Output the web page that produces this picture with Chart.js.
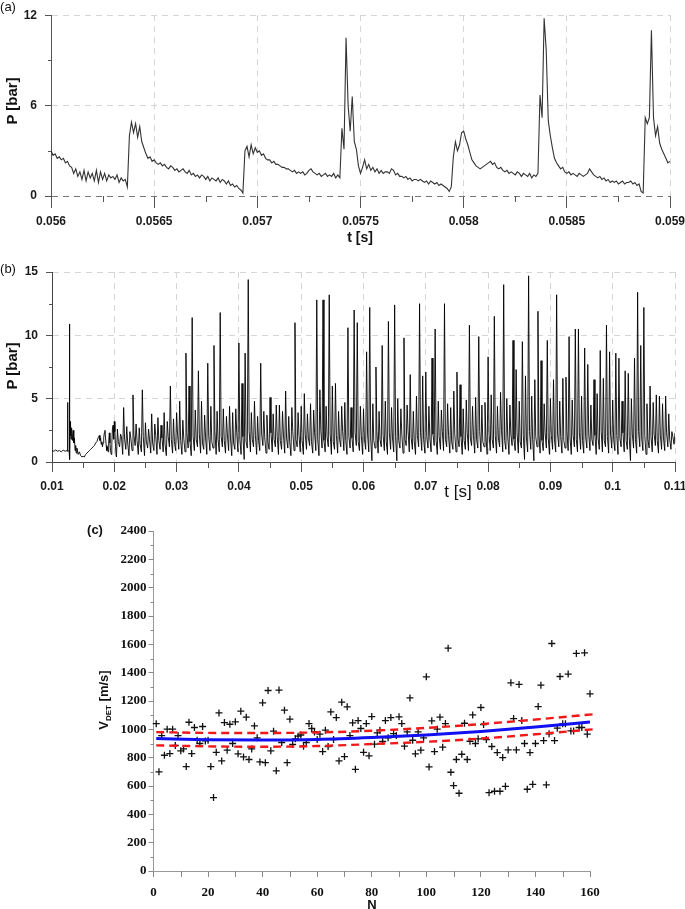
<!DOCTYPE html>
<html>
<head>
<meta charset="utf-8">
<script src="https://cdn.jsdelivr.net/npm/chart.js@4.4.1/dist/chart.umd.min.js"></script>
<style>
html, body { margin: 0; padding: 0; background: #fff; }
body { width: 685px; height: 909px; overflow: hidden; position: relative; font-family: 'Liberation Sans', Arial, sans-serif; color: #111; }
canvas { position: absolute; left: 0; }
.lbl { position: absolute; white-space: nowrap; transform: translate(-50%, -50%); }
.rot { transform: translate(-50%, -50%) rotate(-90deg); }
sub { font-size: 8px; vertical-align: -3px; }
</style>
</head>
<body>
<canvas id="chartA" width="720" height="245" style="top:0"></canvas>
<canvas id="chartB" width="720" height="245" style="top:255px"></canvas>
<canvas id="chartC" width="685" height="404" style="top:505px"></canvas>

<div class="lbl" style="left:8px;top:6px;font-size:13px">(a)</div>
<div class="lbl" style="left:8px;top:268px;font-size:13px">(b)</div>
<div class="lbl" style="left:95px;top:529px;font-size:13px;font-weight:bold">(c)</div>
<div class="lbl rot" style="left:11px;top:101px;font-size:15px;font-weight:bold">P [bar]</div>
<div class="lbl rot" style="left:11px;top:366px;font-size:15px;font-weight:bold">P [bar]</div>
<div class="lbl" style="left:360px;top:237px;font-size:14px;font-weight:bold">t [s]</div>
<div class="lbl" style="left:458px;top:492px;font-size:17px;font-family:'Liberation Sans Narrow','Liberation Sans',sans-serif">t [s]</div>
<div class="lbl rot" style="left:104px;top:700px;font-size:13px;font-weight:bold">V<sub>DET</sub> [m/s]</div>
<div class="lbl" style="left:372px;top:904px;font-size:13px;font-weight:bold">N</div>

<script>
// ---- panel (a): pressure trace, sampled every 10 us from 0.056 s
const tA0 = 0.056, dtA = 0.00001;
const pA = [
3.0,2.7,2.8,2.5,2.6,2.4,2.5,2.2,2.3,2.0,
1.9,1.5,1.8,1.3,1.6,1.1,1.7,1.0,1.6,1.2,
1.5,1.0,1.7,0.9,1.6,1.1,1.5,1.0,1.4,1.2,
1.3,1.1,1.4,0.9,1.2,1.0,1.1,0.6,4.0,4.9,
4.2,4.8,3.9,4.6,3.6,3.2,2.8,2.5,2.6,2.3,
2.4,2.2,2.1,2.2,2.0,2.1,1.9,1.8,2.0,1.9,
1.7,1.8,1.6,1.7,1.8,1.6,1.5,1.7,1.4,1.5,
1.3,1.4,1.2,1.4,1.3,1.1,1.3,1.0,1.2,1.1,
1.0,1.2,0.9,1.1,1.0,0.8,1.0,0.7,0.8,0.6,
0.7,0.5,0.4,0.2,3.0,3.3,2.6,3.4,2.8,3.2,
2.9,3.0,2.7,2.8,2.5,2.4,2.4,2.2,2.3,2.1,
2.1,2.0,1.9,1.9,1.8,1.8,1.7,1.6,1.7,1.5,
1.6,1.5,1.6,1.4,1.5,1.7,1.8,1.6,1.5,1.4,
1.5,1.3,1.4,1.5,1.3,1.4,1.3,1.5,1.2,1.4,
1.2,4.5,3.1,10.5,6.0,4.3,6.6,3.6,3.1,2.0,
1.5,1.9,2.4,1.8,2.1,1.7,1.9,1.6,1.8,1.5,
1.7,1.5,1.6,1.6,1.5,1.8,1.7,1.4,1.5,1.3,
1.3,1.2,1.3,1.1,1.2,1.0,1.1,1.1,1.0,1.1,
1.0,0.9,1.0,0.8,1.0,0.9,0.8,0.9,0.7,0.8,
0.7,0.6,0.5,0.3,0.6,2.6,3.6,3.0,3.4,4.2,
4.3,3.8,3.4,2.9,2.4,2.2,2.0,1.9,1.8,1.9,
2.0,2.1,2.2,2.3,2.1,2.2,1.9,1.8,1.9,1.7,
1.6,1.7,1.5,1.6,1.5,1.4,1.6,1.5,1.3,1.5,
1.4,1.3,1.5,1.2,1.4,1.3,1.5,6.7,5.2,11.8,
9.7,5.0,4.0,3.2,2.5,2.2,2.0,1.8,1.9,1.6,
1.5,1.6,1.4,1.5,1.4,1.3,1.5,1.4,1.3,1.4,
1.5,1.8,1.6,1.4,1.3,1.2,1.3,1.1,1.2,1.0,
1.1,0.9,1.0,0.9,1.0,0.8,0.9,1.0,0.8,0.9,
0.9,1.0,0.8,0.9,0.7,0.8,0.3,0.2,5.2,4.8,
5.2,11.0,5.2,4.0,4.6,3.5,3.1,2.8,2.5,2.2,
2.3];
const aMinorX = [0.05625, 0.05675, 0.05725, 0.05775, 0.05825, 0.05875];
const aMinorY = [3, 9];

// ---- panel (b): start-up part, then one pulse every 0.5 ms from 0.0205 s
const bEarlyT = [0.0100,0.0103,0.0106,0.0109,0.0112,0.0115,0.0118,0.0121,0.0124,
  0.01245,0.0125,0.01255,
  0.01275,0.0128,0.01285,0.0129,0.01295,0.0130,0.01305,0.0131,0.01315,0.0132,
  0.0133,0.0134,0.0135,0.0136,0.0137,0.0138,0.0139,0.0140,
  0.0142,0.0144,0.0146,0.0148,0.0150,0.0152,0.0154,0.0156,0.0158,0.0160,0.0162,0.0164,0.0166,0.0168,0.0170,0.0172,0.0174,0.0176,
  0.0177,0.0178,0.0179,0.0180,0.0181,0.0182,0.0183,0.0184,0.0185,0.0186,0.0187,0.0188,0.0189,0.0190,0.0191,0.0192,0.0193,0.0194,0.0195,0.0196,0.0197,0.0198,0.0199,0.0200,0.0201,0.0202,0.0203];
const bEarlyP = [0.9,0.85,0.95,0.85,0.9,0.8,0.95,0.85,0.9,
  0.85,4.7,0.9,
  0.85,10.9,0.2,3.2,2.1,2.9,1.8,2.7,1.9,2.6,
  1.7,2.5,1.5,1.9,0.9,1.3,0.7,1.1,
  0.6,0.8,0.5,0.4,0.45,0.4,0.6,0.7,0.8,0.9,1.0,1.1,1.2,1.3,1.5,1.6,1.9,2.1,
  1.7,1.9,1.4,1.6,1.2,1.5,1.9,2.3,2.5,1.9,1.3,0.9,1.2,0.8,1.6,2.3,1.5,0.9,0.6,1.4,2.6,2.9,1.8,3.2,2.4,1.2,0.5];
const bT0 = 0.0205, bStep = 0.0005, bEdge = 0.00015;
const bPeak = [
2.6,2.2,4.3,2.8,2.4,5.3,3.0,2.7,5.7,3.1,
2.6,3.8,3.0,3.5,2.9,3.9,3.2,6.0,3.4,3.9,
4.8,3.3,8.6,6.0,11.4,4.1,7.2,4.8,3.7,7.8,
4.4,9.2,4.0,11.8,4.2,3.6,4.4,3.9,4.2,9.4,
6.2,8.6,14.4,3.9,4.8,3.6,7.8,4.0,3.7,5.1,
3.8,4.5,4.5,4.0,5.6,3.6,4.3,11.0,3.9,4.4,
5.4,3.8,4.6,4.1,12.8,5.7,12.8,4.4,13.2,6.0,
6.2,4.0,4.4,4.7,10.6,4.3,12.0,11.0,4.4,4.2,
8.7,12.2,4.6,7.5,4.0,9.2,4.8,11.1,4.3,12.4,
5.0,4.2,9.8,4.5,6.9,4.0,5.2,12.5,6.8,7.1,
4.4,8.2,10.5,4.8,4.1,12.5,4.6,4.3,5.6,7.1,
6.1,4.2,4.9,10.8,4.4,5.1,9.9,4.5,4.7,8.3,
5.3,11.5,4.4,5.5,14.0,5.0,4.5,9.6,7.3,4.8,
9.5,6.8,14.7,5.2,6.5,11.9,8.0,4.6,9.6,5.0,
6.5,13.2,4.8,6.6,6.7,9.9,4.9,10.5,10.5,5.2,
9.0,7.7,4.5,6.5,5.4,8.8,6.6,10.8,8.7,4.9,
8.6,8.2,4.8,7.2,7.0,5.0,8.2,13.4,9.2,12.2,
4.6,6.0,4.7,5.3,5.2,4.6,5.2,3.8,2.4,2.3];
const bLow = [
0.4,1.2,0.6,1.0,0.5,0.9,1.3,0.6,0.8,0.5,
1.1,0.7,0.9,0.6,1.0,0.8,0.5,1.2,0.7,0.9,
1.0,0.6,0.8,1.1,0.5,0.9,1.2,0.7,1.0,0.6,
0.9,1.1,0.6,0.8,1.2,0.7,0.9,0.5,1.0,0.8,
0.6,0.2,1.1,0.8,1.2,0.6,0.9,1.3,0.7,1.0,
0.8,1.2,0.6,1.0,0.7,1.1,0.5,0.9,1.2,0.8,
0.6,1.0,1.3,0.7,0.9,0.5,1.1,0.8,1.2,0.6,
1.0,0.7,1.2,0.9,0.6,1.1,0.8,1.3,0.9,0.6,
1.0,0.8,0.1,1.1,0.7,1.2,0.9,0.6,1.0,0.8,
0.1,1.1,0.7,1.3,0.8,1.0,0.6,1.2,0.9,0.7,
1.1,0.8,1.3,0.6,1.0,0.9,1.2,0.7,1.0,0.8,
1.2,0.6,1.0,0.9,1.3,0.7,1.1,0.8,1.2,0.6,
0.9,1.1,0.7,1.2,0.8,1.0,0.6,1.3,0.9,0.7,
1.1,0.2,0.8,1.0,0.1,1.2,0.7,0.9,1.1,0.6,
1.0,0.8,1.2,0.7,1.1,0.9,0.6,1.2,0.8,1.0,
0.7,1.1,0.9,1.3,0.6,1.0,0.8,1.2,0.7,1.1,
0.9,0.6,1.2,0.8,1.0,0.1,1.1,0.7,1.2,0.9,
0.6,1.1,0.8,1.3,0.7,1.0,0.9,1.2,1.0,1.4];
const bMid = [
1.6,2.0,1.8,1.5,1.9,2.1,1.7,1.4,2.0,1.6,
1.8,1.5,2.1,1.7,1.9,1.4,2.0,1.8,1.6,2.2,
1.7,1.9,2.3,1.6,2.0,1.8,2.2,1.5,1.9,2.1,
1.6,2.4,1.8,2.0,1.7,2.2,1.9,1.5,2.3,1.8,
2.0,1.6,2.4,1.8,2.1,1.7,2.2,1.9,1.6,2.3,
1.8,2.0,1.7,2.2,1.9,1.6,2.4,1.8,2.1,1.7,
2.2,1.9,1.6,2.3,1.8,2.5,1.7,2.0,2.2,1.6,
2.1,1.8,2.4,1.7,2.0,1.9,2.3,1.6,2.1,1.8,
2.2,1.9,1.7,2.4,1.8,2.1,1.6,2.3,1.9,2.0,
1.7,2.2,1.8,2.5,1.9,1.6,2.1,2.3,1.8,2.0,
1.9,2.2,1.7,2.0,2.4,1.8,2.1,1.6,2.2,1.9,
2.0,1.7,2.3,1.9,2.1,1.8,2.4,1.6,2.0,2.2,
1.8,2.1,1.9,2.5,1.7,2.0,2.2,1.8,2.3,1.6,
2.1,1.9,2.4,1.8,2.0,2.2,1.7,2.3,1.9,2.1,
1.8,2.2,2.0,1.7,2.4,1.9,2.1,1.8,2.3,1.7,
2.0,2.2,1.8,2.1,1.9,2.4,1.7,2.0,2.2,1.8,
2.1,1.9,2.3,1.7,2.0,2.2,1.8,2.4,1.9,2.1,
1.8,2.0,2.2,1.7,2.1,1.9,2.3,1.8,2.0,2.2];
const bMinorX = [0.015, 0.025, 0.035, 0.045, 0.055, 0.065, 0.075, 0.085, 0.095, 0.105];
const bMinorY = [2.5, 7.5, 12.5];

// ---- panel (c): detonation velocity per cycle and fitted curves
const cN = [1,2,3,4,5,6,7,8,9,10,11,12,13,14,15,16,17,18,19,20,
21,22,23,24,25,26,27,28,29,30,31,32,33,34,35,36,37,38,39,40,
41,42,43,44,45,46,47,48,49,50,51,52,53,54,55,56,57,58,59,60,
61,62,63,64,65,66,67,68,69,70,71,72,73,74,75,76,77,78,79,80,
81,82,83,84,85,86,87,88,89,90,91,92,93,94,95,96,97,98,99,100,
101,102,103,104,105,106,107,108,109,110,111,112,113,114,115,116,117,118,119,120,
121,122,123,124,125,126,127,128,129,130,131,132,133,134,135,136,137,138,139,140,
141,142,143,144,145,146,147,148,149,150,151,152,153,154,155,156,157,158,159,160];
const cV = [1040,700,956,817,1001,829,1001,886,956,848,862,737,1050,829,1013,923,900,1020,918,923,
737,518,838,1116,777,1048,853,1036,900,1053,827,1128,805,1086,787,862,1024,940,770,1187,
765,1274,848,987,707,1277,907,1135,765,1072,893,933,952,960,881,907,1041,1006,982,928,
966,843,994,879,1123,928,1083,777,1192,808,1159,956,1046,718,1062,1006,838,1041,813,1090,
895,975,994,914,1062,940,1083,970,956,1088,1041,881,982,1222,923,827,982,853,940,1371,
735,1060,843,1001,1086,874,1041,1573,697,603,787,549,824,1043,787,916,1102,900,933,1154,
1034,928,553,879,563,836,563,801,598,855,1328,1076,855,1317,1062,900,577,836,612,900,
1161,1312,921,608,968,1606,921,1008,1373,1039,1039,1390,989,989,1536,1013,1013,1540,966,1251];
const fitN = [1, 20, 40, 60, 80, 100, 120, 140, 160];
const fitV = [935, 927, 925, 929, 942, 960, 985, 1016, 1052];
const bandN = [1, 20, 40, 60, 80, 100, 120, 140, 161];
const bandHi = [980, 975, 974, 978, 990, 1010, 1037, 1069, 1106];
const bandLo = [887, 880, 877, 882, 896, 912, 935, 965, 1000];
const cMinorX = [10, 30, 50, 70, 90, 110, 130, 150];
const cMinorY = [100, 300, 500, 700, 900, 1100, 1300, 1500, 1700, 1900, 2100, 2300];

const sansTick = "'Liberation Sans Narrow', 'Liberation Sans', Arial, sans-serif";
const serifTick = "'Liberation Serif', 'Times New Roman', serif";
const gridGrey = '#d6d6d6';
const fmt = v => String(+v.toFixed(5));

// short ticks between the labelled ones
const minorTicks = {
    id: 'minorTicks',
    afterDraw(chart, args, opts) {
        const ctx = chart.ctx, area = chart.chartArea;
        ctx.save();
        ctx.strokeStyle = opts.color || '#555';
        ctx.lineWidth = 1;
        (opts.list || []).forEach(m => {
            const sc = chart.scales[m.axis];
            m.values.forEach(v => {
                const p = Math.round(sc.getPixelForValue(v)) + 0.5;
                ctx.beginPath();
                if (m.axis === 'x') {
                    ctx.moveTo(p, area.bottom);
                    ctx.lineTo(p, area.bottom + m.len);
                } else {
                    ctx.moveTo(area.left - m.len, p);
                    ctx.lineTo(area.left, p);
                }
                ctx.stroke();
            });
        });
        ctx.restore();
    }
};

const base = {
    responsive: false,
    animation: false,
    events: [],
    plugins: { legend: { display: false }, tooltip: { enabled: false } }
};

// ---- (a)
new Chart(document.getElementById('chartA'), {
    type: 'line',
    data: { datasets: [{
        data: pA.map((p, i) => ({ x: tA0 + i * dtA, y: p })),
        borderColor: '#333', borderWidth: 1.1, pointRadius: 0, tension: 0
    }] },
    options: Object.assign({}, base, {
        layout: { padding: { top: 6, right: 50, left: 0, bottom: 0 } },
        plugins: Object.assign({}, base.plugins, {
            minorTicks: { color: '#555', list: [
                { axis: 'x', values: aMinorX, len: 6 },
                { axis: 'y', values: aMinorY, len: 3 }
            ] }
        }),
        scales: {
            x: {
                type: 'linear', min: 0.056, max: 0.059,
                afterFit: s => { s.height = 49; },
                ticks: { stepSize: 0.0005, autoSkip: false, maxRotation: 0, padding: 6, color: '#1a1a1a',
                    font: { family: sansTick, size: 12, weight: 'bold' }, callback: v => fmt(v) },
                grid: { color: c => c.index === 0 ? 'rgba(0,0,0,0)' : gridGrey, tickColor: '#555', tickLength: 12 },
                border: { display: false, dash: [6, 5] }
            },
            y: {
                min: 0, max: 12,
                afterFit: s => { s.width = 51; },
                ticks: { stepSize: 6, padding: 8, color: '#1a1a1a', font: { family: sansTick, size: 12, weight: 'bold' } },
                grid: { color: c => (c.tick && c.tick.value === 0) ? '#777' : gridGrey, tickColor: '#555', tickLength: 6 },
                border: { display: true, color: '#555', dash: [6, 5] }
            }
        }
    }),
    plugins: [minorTicks]
});

// ---- (b)
const bPoints = bEarlyT.map((t, i) => ({ x: t, y: bEarlyP[i] }));
bPeak.forEach((p, j) => {
    const t = bT0 + j * bStep;
    bPoints.push({ x: t - bEdge, y: bLow[j] }, { x: t, y: p }, { x: t + bEdge, y: bMid[j] });
});

new Chart(document.getElementById('chartB'), {
    type: 'line',
    data: { datasets: [{
        data: bPoints,
        borderColor: '#000', borderWidth: 0.9, pointRadius: 0, tension: 0
    }] },
    options: Object.assign({}, base, {
        layout: { padding: { top: 17, right: 45, left: 0, bottom: 0 } },
        plugins: Object.assign({}, base.plugins, {
            minorTicks: { color: '#555', list: [
                { axis: 'x', values: bMinorX, len: 6 },
                { axis: 'y', values: bMinorY, len: 3 }
            ] }
        }),
        scales: {
            x: {
                type: 'linear', min: 0.01, max: 0.11,
                afterFit: s => { s.height = 38; },
                ticks: { stepSize: 0.01, autoSkip: false, maxRotation: 0, padding: 7, color: '#1a1a1a',
                    font: { family: sansTick, size: 12, weight: 'bold' }, callback: v => fmt(v) },
                grid: { color: c => c.index === 0 ? 'rgba(0,0,0,0)' : gridGrey, tickColor: '#555', tickLength: 10 },
                border: { display: true, color: '#444', dash: [6, 5] }
            },
            y: {
                min: 0, max: 15,
                afterFit: s => { s.width = 52; },
                ticks: { stepSize: 5, padding: 8, color: '#1a1a1a', font: { family: sansTick, size: 12, weight: 'bold' } },
                grid: { color: c => (c.tick && c.tick.value === 0) ? 'rgba(0,0,0,0)' : gridGrey, tickColor: '#555', tickLength: 6 },
                border: { display: true, color: '#444', dash: [6, 5] }
            }
        }
    }),
    plugins: [minorTicks]
});

// ---- (c)
const xy = (xs, ys) => xs.map((x, i) => ({ x: x, y: ys[i] }));
new Chart(document.getElementById('chartC'), {
    type: 'scatter',
    data: { datasets: [
        { data: xy(fitN, fitV), showLine: true, borderColor: '#1010f0', borderWidth: 3, pointRadius: 0,
          cubicInterpolationMode: 'monotone' },
        { data: xy(bandN, bandHi), showLine: true, borderColor: '#f01818', borderWidth: 2.4, borderDash: [8, 5],
          pointRadius: 0, cubicInterpolationMode: 'monotone', clip: false },
        { data: xy(bandN, bandLo), showLine: true, borderColor: '#f01818', borderWidth: 2.4, borderDash: [8, 5],
          pointRadius: 0, cubicInterpolationMode: 'monotone', clip: false },
        { data: xy(cN, cV), pointStyle: 'cross', pointRadius: 3.5, borderColor: '#111', borderWidth: 1.3, clip: false }
    ] },
    options: Object.assign({}, base, {
        layout: { padding: { top: 26, right: 95, left: 0, bottom: 0 } },
        plugins: Object.assign({}, base.plugins, {
            minorTicks: { color: '#888', list: [
                { axis: 'x', values: cMinorX, len: 6 },
                { axis: 'y', values: cMinorY, len: 3 }
            ] }
        }),
        scales: {
            x: {
                type: 'linear', min: 0, max: 160,
                afterFit: s => { s.height = 38; },
                ticks: { stepSize: 20, autoSkip: false, maxRotation: 0, padding: 8, color: '#111',
                    font: { family: serifTick, size: 13, weight: 'bold' }, callback: v => String(v) },
                grid: { drawOnChartArea: false, tickColor: '#888', tickLength: 6 },
                border: { display: true, color: '#999' }
            },
            y: {
                min: 0, max: 2400,
                afterFit: s => { s.width = 153.5; },
                ticks: { stepSize: 200, padding: 2, color: '#111',
                    font: { family: serifTick, size: 13, weight: 'bold' }, callback: v => String(v) },
                grid: { drawOnChartArea: false, tickColor: '#888', tickLength: 5 },
                border: { display: true, color: '#999' }
            }
        }
    }),
    plugins: [minorTicks]
});
</script>
</body>
</html>
